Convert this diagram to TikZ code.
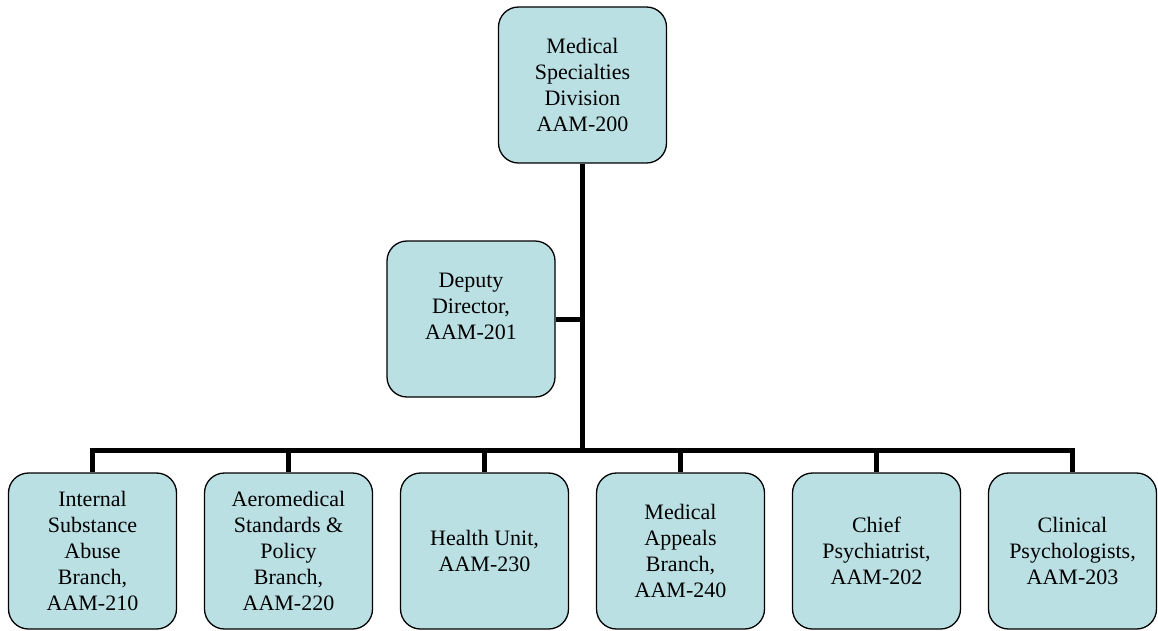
\documentclass[tikz,border=0pt]{standalone}
\usepackage{fontspec}
\setmainfont{Liberation Serif}
\definecolor{boxfill}{RGB}{187,224,228}
\begin{document}
\begin{tikzpicture}[x=1pt,y=-1pt,
  unit/.style={draw=black, line width=1.3pt, fill=boxfill, rounded corners=20pt,
    minimum width=168pt, minimum height=156pt, inner sep=0pt, align=center,
    font=\fontsize{22}{26}\selectfont},
  link/.style={line width=5pt, draw=black, line join=miter}]
\useasboundingbox (0,0) rectangle (1158,630);

% division head and deputy
\node[unit] (head) at (582.5,85) {Medical\\Specialties\\Division\\AAM-200};
\node[unit] (deputy) at (471,319) {Deputy\\Director,\\AAM-201\\~};

% branches
\node[unit] (b210) at (92.5,551) {Internal\\Substance\\Abuse\\Branch,\\AAM-210};
\node[unit] (b220) at (288.5,551) {Aeromedical\\Standards \&\\Policy\\Branch,\\AAM-220};
\node[unit] (b230) at (484.5,551) {Health Unit,\\AAM-230};
\node[unit] (b240) at (680.5,551) {Medical\\Appeals\\Branch,\\AAM-240};
\node[unit] (b202) at (876.5,551) {Chief\\Psychiatrist,\\AAM-202};
\node[unit] (b203) at (1072.5,551) {Clinical\\Psychologists,\\AAM-203};

% connectors
\coordinate (bar) at (582.5,450);
\draw[link] (head.south) -- (bar);
\draw[link] (deputy.east) -- (head.south |- deputy.east);
\foreach \b in {b210,b220,b230,b240,b202,b203}
  \draw[link] (bar) -| (\b.north);
\end{tikzpicture}
\end{document}
